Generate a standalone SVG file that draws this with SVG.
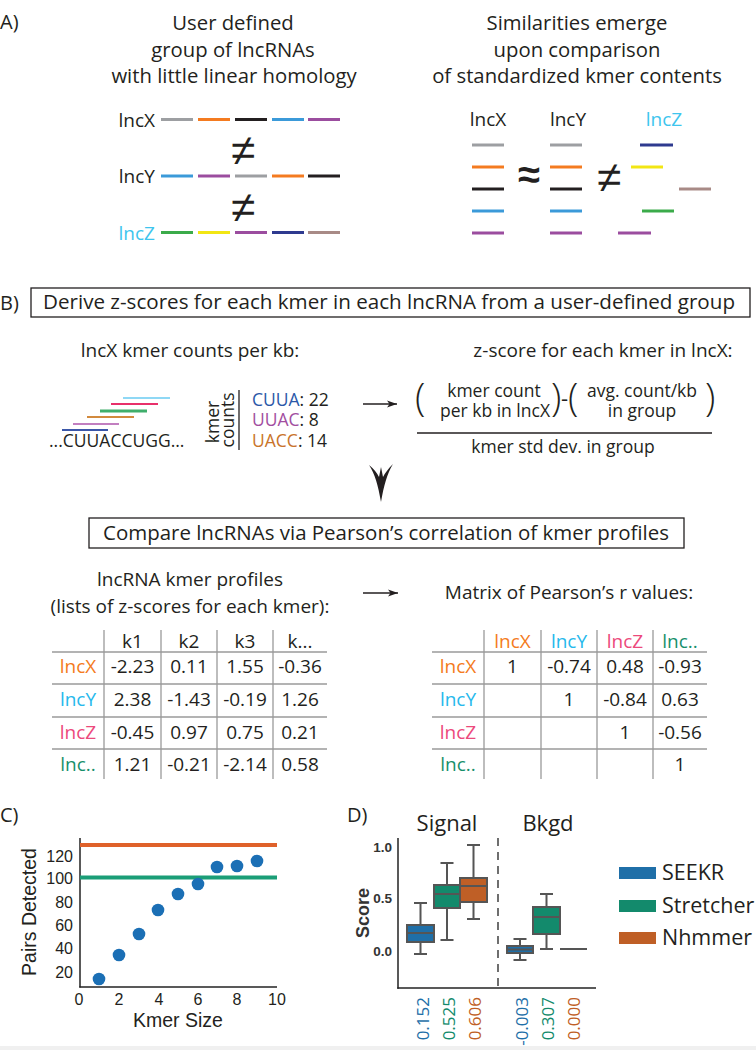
<svg xmlns="http://www.w3.org/2000/svg" width="756" height="1050" viewBox="0 0 756 1050">
<style>
text{font-family:"Open Sans","Noto Sans",sans-serif;fill:#231f20}
.ar{font-family:"Liberation Sans",Arial,sans-serif}
.c{text-anchor:middle}
.e{text-anchor:end}
.pl{font-size:20px}
.ti{font-size:20.3px}
.lb{font-size:19px}
.sym{font-family:"Liberation Sans",Arial,sans-serif;font-size:44px;text-anchor:middle}
.par{font-size:38px;font-weight:300}
.fm{font-size:17.5px;text-anchor:middle}
.seg line{stroke-width:3;fill:none}
.grid line{stroke:#9a9a9a;stroke-width:1.3}
.tv{font-size:19px;text-anchor:middle}
.ox{fill:#f47b20}
.cy{fill:#27b9ec}
.pk{fill:#ec4a7c}
.gn{fill:#178f6b}
.bx{stroke:#555;stroke-width:2}
.wk{stroke:#555;stroke-width:2;fill:none}
</style>
<defs>
<marker id="ah" viewBox="0 0 10 10" refX="10" refY="5" markerWidth="10" markerHeight="10" markerUnits="userSpaceOnUse" orient="auto">
<path d="M0,1.5 L10,5 L0,8.5 L2.5,5 Z" fill="#231f20"/>
</marker>
</defs>
<rect width="756" height="1050" fill="#fff"/>
<rect x="0" y="1046" width="756" height="4" fill="#f0f0f0"/>

<!-- Panel A -->
<g id="panelA-label"><text class="pl" x="0" y="29">A)</text></g>
<g id="panelA-left-title">
<text class="ti c" x="233" y="30">User defined</text>
<text class="ti c" x="233" y="57">group of lncRNAs</text>
<text class="ti c" x="234" y="83">with little linear homology</text>
</g>
<g id="panelA-left-lncX">
<text class="lb e" x="155" y="127">lncX</text>
<g class="seg">
<line x1="161" y1="119.5" x2="193" y2="119.5" stroke="#9d9fa2"/>
<line x1="198" y1="119.5" x2="230" y2="119.5" stroke="#f47b20"/>
<line x1="235" y1="119.5" x2="267" y2="119.5" stroke="#231f20"/>
<line x1="272" y1="119.5" x2="304" y2="119.5" stroke="#3b9ad9"/>
<line x1="308" y1="119.5" x2="340" y2="119.5" stroke="#9b4d9f"/>
</g>
</g>
<g id="panelA-left-lncY">
<text class="lb e" x="155" y="183">lncY</text>
<g class="seg">
<line x1="161" y1="176" x2="193" y2="176" stroke="#3b9ad9"/>
<line x1="198" y1="176" x2="230" y2="176" stroke="#9b4d9f"/>
<line x1="235" y1="176" x2="267" y2="176" stroke="#9d9fa2"/>
<line x1="272" y1="176" x2="304" y2="176" stroke="#f47b20"/>
<line x1="308" y1="176" x2="340" y2="176" stroke="#231f20"/>
</g>
</g>
<g id="panelA-left-lncZ">
<text class="lb e" x="155" y="240" style="fill:#3ec5ee">lncZ</text>
<g class="seg">
<line x1="161" y1="232.5" x2="193" y2="232.5" stroke="#3bab4a"/>
<line x1="198" y1="232.5" x2="230" y2="232.5" stroke="#f2e614"/>
<line x1="235" y1="232.5" x2="267" y2="232.5" stroke="#9b4d9f"/>
<line x1="272" y1="232.5" x2="304" y2="232.5" stroke="#2e3a8f"/>
<line x1="308" y1="232.5" x2="340" y2="232.5" stroke="#a88a86"/>
</g>
</g>
<g id="panelA-left-neq">
<text class="sym" x="243" y="164.5">≠</text>
<text class="sym" x="243" y="221.5">≠</text>
</g>

<g id="panelA-right-title">
<text class="ti c" x="577" y="30">Similarities emerge</text>
<text class="ti c" x="577" y="57">upon comparison</text>
<text class="ti c" x="577" y="83">of standardized kmer contents</text>
</g>
<g id="panelA-right-lncX">
<text class="lb c" x="488" y="126">lncX</text>
<g class="seg">
<line x1="472" y1="145" x2="504" y2="145" stroke="#9d9fa2"/>
<line x1="472" y1="167" x2="504" y2="167" stroke="#f47b20"/>
<line x1="472" y1="189" x2="504" y2="189" stroke="#231f20" stroke-width="3.5"/>
<line x1="472" y1="211" x2="504" y2="211" stroke="#3b9ad9"/>
<line x1="472" y1="233" x2="504" y2="233" stroke="#9b4d9f"/>
</g>
</g>
<g id="panelA-right-lncY">
<text class="lb c" x="568" y="126">lncY</text>
<g class="seg">
<line x1="550" y1="145" x2="582" y2="145" stroke="#9d9fa2"/>
<line x1="550" y1="167" x2="582" y2="167" stroke="#f47b20"/>
<line x1="550" y1="189" x2="582" y2="189" stroke="#231f20" stroke-width="3.5"/>
<line x1="550" y1="211" x2="582" y2="211" stroke="#3b9ad9"/>
<line x1="550" y1="233" x2="582" y2="233" stroke="#9b4d9f"/>
</g>
</g>
<g id="panelA-right-lncZ">
<text class="lb c" x="664" y="126" style="fill:#3ec5ee">lncZ</text>
<g class="seg">
<line x1="640" y1="145" x2="673" y2="145" stroke="#2e3a8f"/>
<line x1="631" y1="167" x2="663" y2="167" stroke="#f2e614"/>
<line x1="679" y1="189" x2="711" y2="189" stroke="#a88a86"/>
<line x1="642" y1="211" x2="674" y2="211" stroke="#3bab4a"/>
<line x1="618" y1="233" x2="651" y2="233" stroke="#9b4d9f"/>
</g>
</g>
<g id="panelA-right-symbols">
<text class="sym" x="529" y="188" style="font-size:40px;font-weight:bold">≈</text>
<text class="sym" x="609" y="191.5">≠</text>
</g>

<!-- Panel B -->
<g id="panelB-label"><text class="pl" x="0" y="310">B)</text></g>
<g id="box-derive">
<rect x="31" y="288" width="719" height="29" fill="none" stroke="#231f20" stroke-width="1.3"/>
<text class="ti" x="43" y="309" textLength="692" lengthAdjust="spacingAndGlyphs" style="font-size:20.5px">Derive z-scores for each kmer in each lncRNA from a user-defined group</text>
</g>
<g id="kmer-counts">
<text class="lb c" x="190" y="357">lncX kmer counts per kb:</text>
<line x1="123" y1="398" x2="170" y2="398" stroke="#8fd8f5" stroke-width="2"/>
<line x1="111" y1="404" x2="158" y2="404" stroke="#e8306b" stroke-width="2"/>
<line x1="100" y1="411" x2="147" y2="411" stroke="#3fae6b" stroke-width="3"/>
<line x1="87" y1="417" x2="134" y2="417" stroke="#d28a3d" stroke-width="2"/>
<line x1="73" y1="424" x2="119" y2="424" stroke="#c27fc0" stroke-width="2"/>
<line x1="62" y1="430" x2="108" y2="430" stroke="#3b57a8" stroke-width="2"/>
<text x="49" y="447" style="font-size:17.5px">...CUUACCUGG...</text>
<text class="c" x="218.5" y="422" transform="rotate(-90 218.5 422)" style="font-size:17.5px">kmer</text>
<text class="c" x="234" y="420" transform="rotate(-90 234 420)" style="font-size:17.5px">counts</text>
<line x1="239" y1="390" x2="239" y2="450" stroke="#231f20" stroke-width="1.3"/>
<text x="252" y="406" style="font-size:17.5px"><tspan style="fill:#2b58a8">CUUA</tspan>: 22</text>
<text x="252" y="426" style="font-size:17.5px"><tspan style="fill:#a24ea0">UUAC</tspan>: 8</text>
<text x="252" y="447" style="font-size:17.5px"><tspan style="fill:#c9742a">UACC</tspan>: 14</text>
</g>
<g id="zscore-formula">
<text class="lb c" x="603" y="357">z-score for each kmer in lncX:</text>
<text class="par" x="415" y="411">(</text>
<text class="fm" x="494" y="397">kmer count</text>
<text class="fm" x="495" y="417">per kb in lncX</text>
<text class="par" x="551" y="411">)</text>
<text x="561" y="406" style="font-size:22px">-</text>
<text class="par" x="568" y="411">(</text>
<text class="fm" x="642" y="397">avg. count/kb</text>
<text class="fm" x="642" y="417">in group</text>
<text class="par" x="705" y="411">)</text>
<line x1="417" y1="433" x2="712" y2="433" stroke="#231f20" stroke-width="1.3"/>
<text class="fm" x="563" y="453">kmer std dev. in group</text>
</g>

<g id="connectors">
<line x1="363" y1="404" x2="397" y2="404" stroke="#231f20" stroke-width="1.3" marker-end="url(#ah)"/>
<line x1="363" y1="593" x2="398" y2="593" stroke="#231f20" stroke-width="1.3" marker-end="url(#ah)"/>
<path d="M369,465 C374,469 377,473 379,477 L381,467 L383,477 C385,473 388,469 393,464 C387,474 384,485 381,502 C378,485 375,474 369,465 Z" fill="#231f20"/>
</g>

<g id="box-compare">
<rect x="89" y="518" width="595" height="30" fill="none" stroke="#231f20" stroke-width="1.3"/>
<text class="ti" x="103" y="540" textLength="566" lengthAdjust="spacingAndGlyphs" style="font-size:20.5px">Compare lncRNAs via Pearson’s correlation of kmer profiles</text>
</g>

<g id="profiles-table">
<text class="lb c" x="190" y="586">lncRNA kmer profiles</text>
<text class="lb c" x="190" y="613">(lists of z-scores for each kmer):</text>
<g class="grid">
<line x1="104" y1="630" x2="104" y2="779"/>
<line x1="161" y1="630" x2="161" y2="779"/>
<line x1="217" y1="630" x2="217" y2="779"/>
<line x1="273" y1="630" x2="273" y2="779"/>
<line x1="52" y1="652" x2="327" y2="652"/>
<line x1="52" y1="684" x2="327" y2="684"/>
<line x1="52" y1="717" x2="327" y2="717"/>
<line x1="52" y1="749" x2="327" y2="749"/>
</g>
<text class="tv" x="132.5" y="648">k1</text>
<text class="tv" x="189" y="648">k2</text>
<text class="tv" x="245" y="648">k3</text>
<text class="tv" x="300" y="648">k...</text>
<text class="tv ox" x="78" y="673">lncX</text>
<text class="tv cy" x="78" y="706">lncY</text>
<text class="tv pk" x="78" y="739">lncZ</text>
<text class="tv gn" x="78" y="771">lnc..</text>
<text class="tv" x="132.5" y="673">-2.23</text><text class="tv" x="189" y="673">0.11</text><text class="tv" x="245" y="673">1.55</text><text class="tv" x="300" y="673">-0.36</text>
<text class="tv" x="132.5" y="706">2.38</text><text class="tv" x="189" y="706">-1.43</text><text class="tv" x="245" y="706">-0.19</text><text class="tv" x="300" y="706">1.26</text>
<text class="tv" x="132.5" y="739">-0.45</text><text class="tv" x="189" y="739">0.97</text><text class="tv" x="245" y="739">0.75</text><text class="tv" x="300" y="739">0.21</text>
<text class="tv" x="132.5" y="771">1.21</text><text class="tv" x="189" y="771">-0.21</text><text class="tv" x="245" y="771">-2.14</text><text class="tv" x="300" y="771">0.58</text>
</g>

<g id="pearson-matrix">
<text class="lb c" x="569" y="599">Matrix of Pearson’s r values:</text>
<g class="grid">
<line x1="484" y1="630" x2="484" y2="779"/>
<line x1="541" y1="630" x2="541" y2="779"/>
<line x1="597" y1="630" x2="597" y2="779"/>
<line x1="653" y1="630" x2="653" y2="779"/>
<line x1="432" y1="652" x2="707" y2="652"/>
<line x1="432" y1="684" x2="707" y2="684"/>
<line x1="432" y1="717" x2="707" y2="717"/>
<line x1="432" y1="749" x2="707" y2="749"/>
</g>
<text class="tv ox" x="512.5" y="648">lncX</text>
<text class="tv cy" x="569" y="648">lncY</text>
<text class="tv pk" x="625" y="648">lncZ</text>
<text class="tv gn" x="680" y="648">lnc..</text>
<text class="tv ox" x="458" y="673">lncX</text>
<text class="tv cy" x="458" y="706">lncY</text>
<text class="tv pk" x="458" y="739">lncZ</text>
<text class="tv gn" x="458" y="771">lnc..</text>
<text class="tv" x="512.5" y="673">1</text><text class="tv" x="569" y="673">-0.74</text><text class="tv" x="625" y="673">0.48</text><text class="tv" x="680" y="673">-0.93</text>
<text class="tv" x="569" y="706">1</text><text class="tv" x="625" y="706">-0.84</text><text class="tv" x="680" y="706">0.63</text>
<text class="tv" x="625" y="739">1</text><text class="tv" x="680" y="739">-0.56</text>
<text class="tv" x="680" y="771">1</text>
</g>

<!-- Panel C -->
<g id="panelC">
<text class="pl" x="0" y="822">C)</text>
<line x1="80" y1="838" x2="80" y2="987.5" stroke="#222" stroke-width="1.5"/>
<line x1="79.3" y1="987" x2="277" y2="987" stroke="#222" stroke-width="1.5"/>
<line x1="80" y1="845" x2="277" y2="845" stroke="#df612a" stroke-width="4"/>
<line x1="80" y1="877.5" x2="277" y2="877.5" stroke="#1b9e77" stroke-width="4"/>
<g fill="#1b6fb5">
<circle cx="99" cy="979" r="6.3"/>
<circle cx="119" cy="955" r="6.3"/>
<circle cx="139" cy="934" r="6.3"/>
<circle cx="158" cy="910" r="6.3"/>
<circle cx="178" cy="894" r="6.3"/>
<circle cx="198" cy="884" r="6.3"/>
<circle cx="217" cy="867" r="6.3"/>
<circle cx="237" cy="866" r="6.3"/>
<circle cx="257" cy="861" r="6.3"/>
</g>
<text class="ar e" x="73" y="862" style="font-size:16px">120</text>
<text class="ar e" x="73" y="884" style="font-size:16px">100</text>
<text class="ar e" x="73" y="908" style="font-size:16px">80</text>
<text class="ar e" x="73" y="931" style="font-size:16px">60</text>
<text class="ar e" x="73" y="954" style="font-size:16px">40</text>
<text class="ar e" x="73" y="978" style="font-size:16px">20</text>
<text class="ar c" x="79" y="1005" style="font-size:16px">0</text>
<text class="ar c" x="119" y="1005" style="font-size:16px">2</text>
<text class="ar c" x="159" y="1005" style="font-size:16px">4</text>
<text class="ar c" x="198" y="1005" style="font-size:16px">6</text>
<text class="ar c" x="237" y="1005" style="font-size:16px">8</text>
<text class="ar c" x="277" y="1005" style="font-size:16px">10</text>
<text class="ar c" x="178" y="1027" style="font-size:19.5px">Kmer Size</text>
<text class="ar c" x="36" y="912" transform="rotate(-90 36 912)" style="font-size:19.5px">Pairs Detected</text>
</g>

<!-- Panel D -->
<g id="panelD">
<text class="pl" x="347" y="822">D)</text>
<text class="c" x="447" y="831" style="font-size:22px">Signal</text>
<text class="c" x="548" y="831" style="font-size:22px">Bkgd</text>
<line x1="398" y1="838" x2="398" y2="988.7" stroke="#222" stroke-width="1.5"/>
<line x1="397.3" y1="988" x2="596" y2="988" stroke="#222" stroke-width="1.5"/>
<line x1="498" y1="838" x2="498" y2="988" stroke="#222" stroke-width="1.3" stroke-dasharray="8,6"/>
<text class="ar e" x="392" y="852" style="font-size:13.5px;font-weight:bold;fill:#333">1.0</text>
<text class="ar e" x="392" y="903" style="font-size:13.5px;font-weight:bold;fill:#333">0.5</text>
<text class="ar e" x="392" y="956" style="font-size:13.5px;font-weight:bold;fill:#333">0.0</text>
<text class="ar c" x="369" y="913" transform="rotate(-90 369 913)" style="font-size:18px;font-weight:bold;fill:#333">Score</text>
<path class="wk" d="M420.5,903 V925 M420.5,942 V954 M414,903 H427 M414,954 H427"/>
<rect class="bx" x="407" y="925" width="27" height="17" fill="#1f6fa8"/>
<line class="wk" x1="407" y1="933" x2="434" y2="933"/>
<path class="wk" d="M447,863 V885 M447,908 V940 M440.5,863 H453.5 M440.5,940 H453.5"/>
<rect class="bx" x="434" y="885" width="26" height="23" fill="#138a6c"/>
<line class="wk" x1="434" y1="894" x2="460" y2="894"/>
<path class="wk" d="M473.5,845 V878 M473.5,902 V919 M467,845 H480 M467,919 H480"/>
<rect class="bx" x="460" y="878" width="27" height="24" fill="#bf5f26"/>
<line class="wk" x1="460" y1="886" x2="487" y2="886"/>
<path class="wk" d="M520,939 V946 M520,953 V960 M513.5,939 H526.5 M513.5,960 H526.5"/>
<rect class="bx" x="507" y="946" width="26" height="7" fill="#1f6fa8"/>
<line class="wk" x1="507" y1="949.5" x2="533" y2="949.5"/>
<path class="wk" d="M546.5,894 V907 M546.5,934 V949 M540,894 H553 M540,949 H553"/>
<rect class="bx" x="533" y="907" width="27" height="27" fill="#138a6c"/>
<line class="wk" x1="533" y1="917" x2="560" y2="917"/>
<line class="wk" x1="560" y1="949" x2="587" y2="949"/>
<text class="e" x="429" y="997" transform="rotate(-90 429 997)" style="font-size:17px;fill:#1f6fa8">0.152</text>
<text class="e" x="455" y="997" transform="rotate(-90 455 997)" style="font-size:17px;fill:#138a6c">0.525</text>
<text class="e" x="481" y="997" transform="rotate(-90 481 997)" style="font-size:17px;fill:#bf5f26">0.606</text>
<text class="e" x="528" y="997" transform="rotate(-90 528 997)" style="font-size:17px;fill:#1f6fa8">-0.003</text>
<text class="e" x="554" y="997" transform="rotate(-90 554 997)" style="font-size:17px;fill:#138a6c">0.307</text>
<text class="e" x="580" y="997" transform="rotate(-90 580 997)" style="font-size:17px;fill:#bf5f26">0.000</text>
</g>
<g id="legend">
<rect x="619" y="867" width="37" height="12" fill="#1f6fa8"/>
<rect x="619" y="900" width="37" height="12" fill="#138a6c"/>
<rect x="619" y="932" width="37" height="12" fill="#bf5f26"/>
<text x="662" y="880" style="font-size:21.5px">SEEKR</text>
<text x="662" y="913" style="font-size:21.5px">Stretcher</text>
<text x="662" y="945" style="font-size:21.5px">Nhmmer</text>
</g>
</svg>
